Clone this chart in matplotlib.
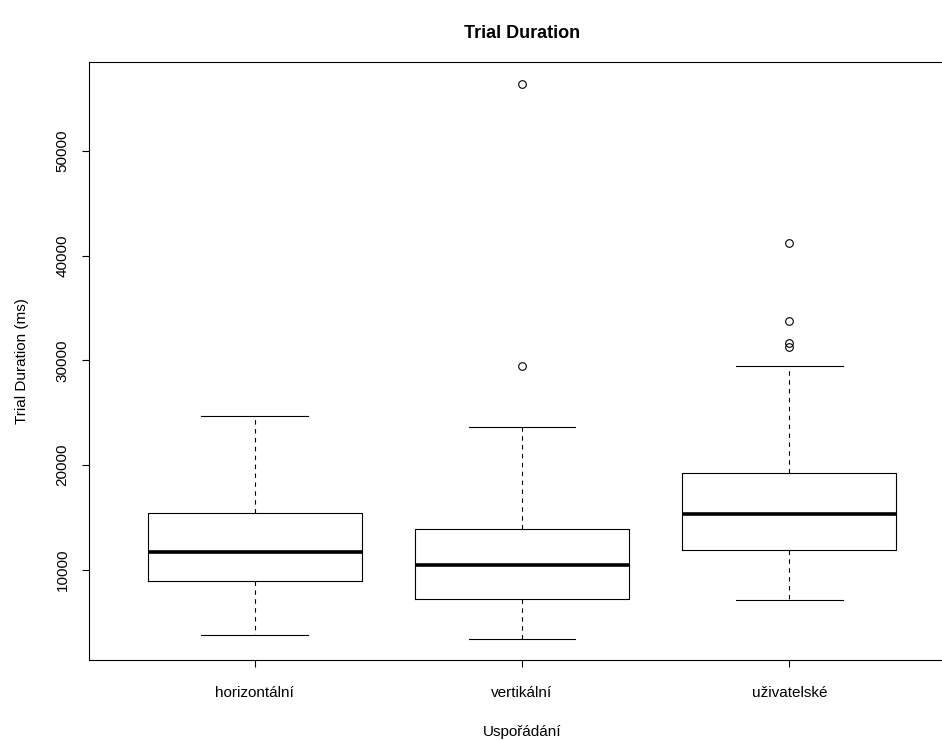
import matplotlib
matplotlib.use("Agg")
import matplotlib.pyplot as plt

# hodnoty (ms)
skupiny = ['horizontální', 'vertikální', 'uživatelské']
dolni_vous = [3800, 3410, 7140]
q1 = [8950, 7230, 11880]
median = [11750, 10480, 15380]
q3 = [15470, 13910, 19230]
horni_vous = [24700, 23680, 29480]
odlehle = [[], [29500, 56400], [31290, 31670, 33740, 41250]]

plt.rcParams['font.family'] = ['Liberation Sans', 'DejaVu Sans']

fig = plt.figure(figsize=(9.42, 7.4), dpi=100)
W, H = 942, 740
# oblast grafu v pixelech: vlevo 89, nahore 62, dole 660, vpravo ~955 (oriznuto)
ax = fig.add_axes([89 / W, 1 - 660 / H, (955 - 89) / W, (660 - 62) / H])

stats = []
for i in range(len(skupiny)):
    stats.append({'label': skupiny[i], 'whislo': dolni_vous[i], 'q1': q1[i],
                  'med': median[i], 'q3': q3[i], 'whishi': horni_vous[i],
                  'fliers': odlehle[i]})

ax.bxp(stats, positions=[1, 2, 3], widths=0.8, capwidths=0.4,
       boxprops=dict(color='black', linewidth=0.8),
       medianprops=dict(color='black', linewidth=2.6, solid_capstyle='butt'),
       whiskerprops=dict(color='black', linewidth=0.8, linestyle=(0, (4, 4))),
       capprops=dict(color='black', linewidth=0.8),
       flierprops=dict(marker='o', markersize=5.5, markerfacecolor='none',
                       markeredgecolor='black', markeredgewidth=0.8))

ax.set_xlim(0.38, 3.62)
ax.set_ylim(1408, 58496)
ax.set_yticks([10000, 20000, 30000, 40000, 50000])
ax.set_yticklabels(['10000', '20000', '30000', '40000', '50000'], rotation=90, va='center')

for s in ax.spines.values():
    s.set_linewidth(0.8)

ax.tick_params(axis='both', length=5, width=0.8, labelsize=11, direction='out')
ax.tick_params(axis='x', pad=13.5)
ax.tick_params(axis='y', pad=9)

ax.set_title('Trial Duration', fontsize=13, fontweight='bold', pad=17.5)
ax.set_xlabel('Uspořádání', fontsize=11, labelpad=18.5)
ax.set_ylabel('Trial Duration (ms)', fontsize=11, labelpad=19)

fig.savefig('out.png', dpi=100)
